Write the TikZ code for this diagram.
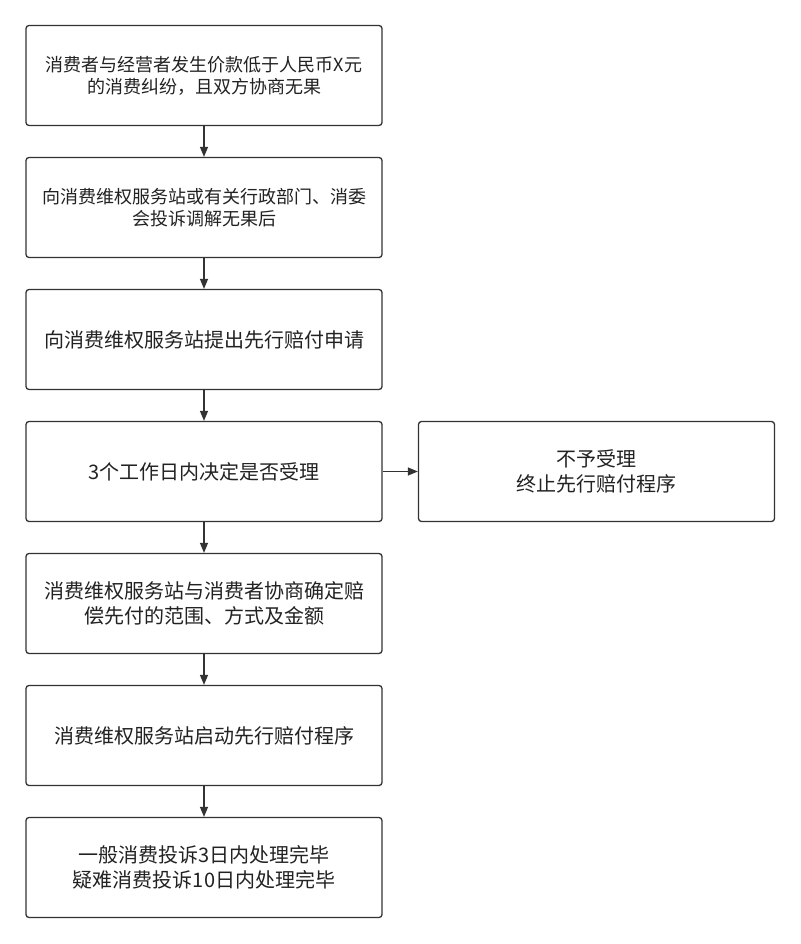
\documentclass[tikz,border=0pt]{standalone}
\usepackage{fontspec}
\newfontfamily\cjk{Noto Sans CJK SC}
\usetikzlibrary{arrows.meta}
\definecolor{linegray}{HTML}{333333}
\definecolor{textgray}{HTML}{222222}
\begin{document}
\begin{tikzpicture}[x=1pt, y=-1pt,
    box/.style={draw=linegray, line width=1.3pt, rounded corners=3pt, fill=white,
        minimum width=356pt, minimum height=100pt, align=center, text=textgray,
        inner sep=0pt, font=\cjk\fontsize{20}{25}\selectfont},
    smallbox/.style={box, font=\cjk\fontsize{18}{22}\selectfont},
    flow/.style={draw=linegray, line width=1.3pt, -{Triangle[length=10pt, width=8pt]}}]
    \useasboundingbox[fill=white] (0,0) rectangle (800,944);
    \node[smallbox] (b1) at (204,75.5) {消费者与经营者发生价款低于人民币X元\\的消费纠纷，且双方协商无果};
    \node[smallbox] (b2) at (204,207.5) {向消费维权服务站或有关行政部门、消委\\会投诉调解无果后};
    \node[box] (b3) at (204,339.5) {向消费维权服务站提出先行赔付申请};
    \node[box] (b4) at (204,471.5) {3个工作日内决定是否受理};
    \node[box] (r4) at (596.5,471.5) {不予受理\\终止先行赔付程序};
    \node[box] (b5) at (204,603.5) {消费维权服务站与消费者协商确定赔\\偿先付的范围、方式及金额};
    \node[box] (b6) at (204,735.5) {消费维权服务站启动先行赔付程序};
    \node[box] (b7) at (204,867.5) {一般消费投诉3日内处理完毕\\疑难消费投诉10日内处理完毕};
    \path (b1) edge[flow] (b2);
    \path (b2) edge[flow] (b3);
    \path (b3) edge[flow] (b4);
    \path (b4) edge[flow] (r4);
    \path (b4) edge[flow] (b5);
    \path (b5) edge[flow] (b6);
    \path (b6) edge[flow] (b7);
\end{tikzpicture}
\end{document}
